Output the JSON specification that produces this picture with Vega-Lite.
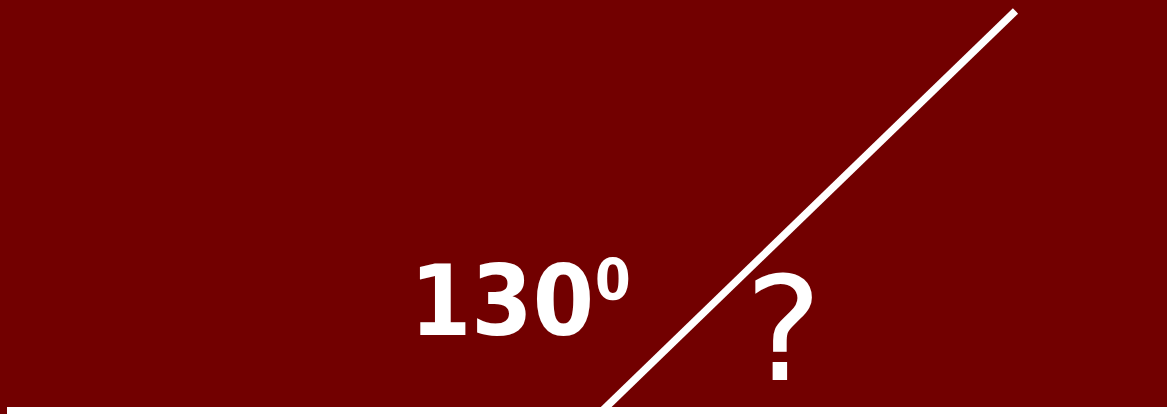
{
  "$schema": "https://vega.github.io/schema/vega-lite/v6.json",
  "autosize": {"type": "none"},
  "width": 1167,
  "height": 414,
  "padding": 0,
  "background": "#720000",
  "config": {"view": {"stroke": null}},
  "layer": [
    {
      "data": {"values": [{"x": 7, "y": 3.5, "x2": 1167, "y2": 3.5}]},
      "mark": {"type": "rule", "color": "white", "strokeWidth": 7, "strokeCap": "butt"},
      "encoding": {
        "x": {"field": "x", "type": "quantitative", "scale": {"domain": [0, 1167]}, "axis": null},
        "y": {"field": "y", "type": "quantitative", "scale": {"domain": [0, 414]}, "axis": null},
        "x2": {"field": "x2"},
        "y2": {"field": "y2"}
      }
    },
    {
      "data": {"values": [{"x": 599, "y": 0, "x2": 1015.5, "y2": 403}]},
      "mark": {"type": "rule", "color": "white", "strokeWidth": 7.5, "strokeCap": "butt"},
      "encoding": {
        "x": {"field": "x", "type": "quantitative", "scale": {"domain": [0, 1167]}, "axis": null},
        "y": {"field": "y", "type": "quantitative", "scale": {"domain": [0, 414]}, "axis": null},
        "x2": {"field": "x2"},
        "y2": {"field": "y2"}
      }
    },
    {
      "data": {"values": [{"x": 410, "y": 79, "label": "130"}]},
      "mark": {"type": "text", "color": "white", "font": "'DejaVu Sans Condensed', 'DejaVu Sans'", "fontWeight": "bold", "fontSize": 98, "align": "left", "baseline": "alphabetic"},
      "encoding": {
        "x": {"field": "x", "type": "quantitative", "scale": {"domain": [0, 1167]}, "axis": null},
        "y": {"field": "y", "type": "quantitative", "scale": {"domain": [0, 414]}, "axis": null},
        "text": {"field": "label"}
      }
    },
    {
      "data": {"values": [{"x": 595, "y": 114, "label": "0"}]},
      "mark": {"type": "text", "color": "white", "font": "'DejaVu Sans Condensed', 'DejaVu Sans'", "fontWeight": "bold", "fontSize": 57, "align": "left", "baseline": "alphabetic"},
      "encoding": {
        "x": {"field": "x", "type": "quantitative", "scale": {"domain": [0, 1167]}, "axis": null},
        "y": {"field": "y", "type": "quantitative", "scale": {"domain": [0, 414]}, "axis": null},
        "text": {"field": "label"}
      }
    },
    {
      "data": {"values": [{"x": 745, "y": 34, "label": "?"}]},
      "mark": {"type": "text", "color": "white", "font": "DejaVu Sans", "fontWeight": "normal", "fontSize": 145, "align": "left", "baseline": "alphabetic"},
      "encoding": {
        "x": {"field": "x", "type": "quantitative", "scale": {"domain": [0, 1167]}, "axis": null},
        "y": {"field": "y", "type": "quantitative", "scale": {"domain": [0, 414]}, "axis": null},
        "text": {"field": "label"}
      }
    }
  ]
}
